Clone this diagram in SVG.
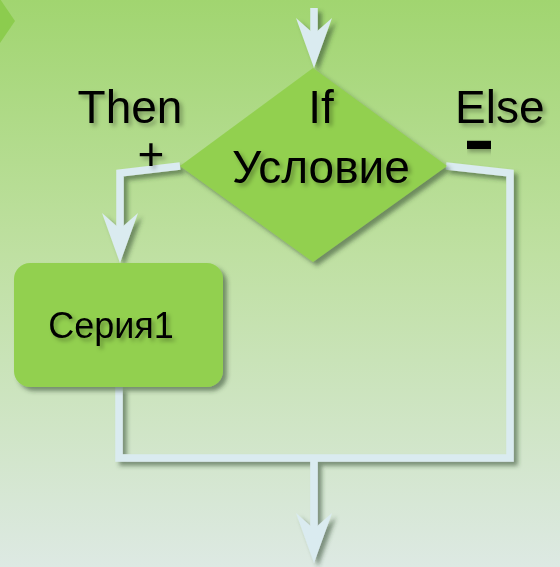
<svg xmlns="http://www.w3.org/2000/svg" xmlns:xlink="http://www.w3.org/1999/xlink" width="560" height="567" viewBox="0 0 560 567">
  <defs>
    <linearGradient id="bg" x1="0" y1="0" x2="0" y2="1">
      <stop offset="0" stop-color="#a1d570"/>
      <stop offset="0.45" stop-color="#bfe0a2"/>
      <stop offset="1" stop-color="#dde9e3"/>
    </linearGradient>
    <filter id="shadow" x="-20%" y="-20%" width="140%" height="140%">
      <feDropShadow dx="4" dy="4" stdDeviation="2" flood-color="#2f4a2f" flood-opacity="0.55"/>
    </filter>
    <filter id="tshadow" x="-20%" y="-20%" width="140%" height="140%">
      <feDropShadow dx="3" dy="3" stdDeviation="2" flood-color="#000" flood-opacity="0.3"/>
    </filter>
    <path id="head" d="M0,0 L-18,-50 L0,-34 L18,-50 Z"/>
  </defs>
  <style>
    .shape { fill: #92d050; filter: url(#shadow); }
    .conn { fill: none; stroke: #daebf0; stroke-width: 7.5; stroke-linejoin: miter; }
    .head { fill: #daebf0; }
    .lbl { font-family: "Liberation Sans", Arial, sans-serif; fill: #000; filter: url(#tshadow); }
  </style>
  <rect width="560" height="567" fill="url(#bg)"/>
  <polygon points="0,-1 15,21 0,43" fill="#8ccc4e"/>

  <g id="connectors" filter="url(#shadow)">
    <line class="conn" x1="314" y1="8" x2="314" y2="40"/>
    <use xlink:href="#head" class="head" x="314" y="68"/>
    <polyline class="conn" points="180,166 120,173 120,235"/>
    <use xlink:href="#head" class="head" x="120" y="263"/>
    <polyline class="conn" points="446,166 510,173 510,458 119,458 119,387"/>
    <line class="conn" x1="314" y1="458" x2="314" y2="535"/>
    <use xlink:href="#head" class="head" x="314" y="563"/>
  </g>

  <g id="decision">
    <polygon class="shape" points="313,68 447,166 313,262 180,166"/>
    <text class="lbl" x="321" y="123" font-size="46" text-anchor="middle">If</text>
    <text class="lbl" x="321" y="183" font-size="46" text-anchor="middle">Условие</text>
  </g>

  <g id="series1">
    <rect class="shape" x="14" y="263" width="209" height="124" rx="16"/>
    <text class="lbl" x="111" y="338" font-size="36" text-anchor="middle">Серия1</text>
  </g>

  <g id="then-label">
    <text class="lbl" x="130" y="123" font-size="46" text-anchor="middle">Then</text>
    <text class="lbl" x="151" y="170" font-size="46" text-anchor="middle">+</text>
  </g>

  <g id="else-label">
    <text class="lbl" x="471" y="149.5" font-size="18" font-weight="bold" stroke="#000" stroke-width="6" textLength="16" lengthAdjust="spacingAndGlyphs">-</text>
    <text class="lbl" x="455" y="123" font-size="46">Else</text>
  </g>
</svg>
